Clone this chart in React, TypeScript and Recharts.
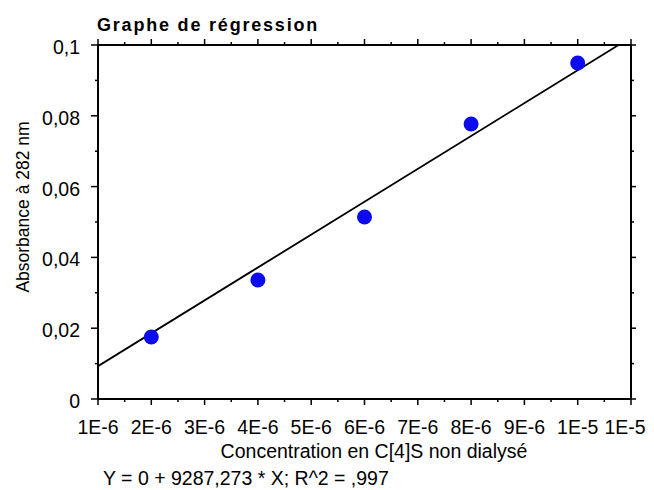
import React from "react";
import { ScatterChart, Scatter, XAxis, YAxis } from "recharts";

// ---- data ----
const concentrations = [2e-6, 4e-6, 6e-6, 8e-6, 1e-5];
const absorbances = [0.0175, 0.0336, 0.0514, 0.0777, 0.0949];
const fitIntercept = 0;
const fitSlope = 9287.273;
const fitX = [1e-6, 1.0767e-5];
const xMajorTicks = [1e-6, 2e-6, 3e-6, 4e-6, 5e-6, 6e-6, 7e-6, 8e-6, 9e-6, 1e-5, 1.1e-5];
const xTickLabels = ["1E-6", "2E-6", "3E-6", "4E-6", "5E-6", "6E-6", "7E-6", "8E-6", "9E-6", "1E-5", "1E-5"];
const yMajorTicks = [0, 0.02, 0.04, 0.06, 0.08, 0.1];
const yTickLabels = ["0", "0,02", "0,04", "0,06", "0,08", "0,1"];
const chartTitle = "Graphe de régression";
const xTitle = "Concentration en C[4]S non dialysé";
const yTitle = "Absorbance à 282 nm";
const equation = "Y = 0 + 9287,273 * X; R^2 = ,997";

const points = concentrations.map((x, i) => ({ x, y: absorbances[i] }));
const fitLine = fitX.map((x) => ({ x, y: fitIntercept + fitSlope * x }));

const withMinor = (majors: number[]) => {
  const out: number[] = [];
  majors.forEach((m, i) => {
    out.push(m);
    if (i < majors.length - 1) out.push((m + majors[i + 1]) / 2);
  });
  return out;
};
const xTicks = withMinor(xMajorTicks);
const yTicks = withMinor(yMajorTicks);

const FONT = "'Liberation Sans', Arial, Helvetica, sans-serif";
const FS = 19.5;
const W = 638;
const H = 482;

const makeTick =
  (side: "bottom" | "top" | "left" | "right", majors: number[], labels: string[], step: number) =>
  (props: any) => {
    const { x, y, payload } = props;
    const v = payload.value;
    const idx = majors.findIndex((m) => Math.abs(m - v) < step * 1e-4);
    const major = idx >= 0;
    let line;
    let label = null;
    if (side === "bottom") {
      const len = major ? 6 : 3;
      line = <line x1={x} y1={y} x2={x} y2={y + len} stroke="#000" strokeWidth={1.5} />;
      if (major)
        label = (
          <text
            x={Math.min(x, W - 21)}
            y={y + 35}
            textAnchor="middle"
            fontSize={FS}
            fontFamily={FONT}
            fill="#000"
          >
            {labels[idx]}
          </text>
        );
    } else if (side === "top") {
      const len = major ? 6 : 3;
      line = <line x1={x} y1={y} x2={x} y2={y - len} stroke="#000" strokeWidth={1.5} />;
    } else if (side === "left") {
      const len = major ? 7 : 3;
      line = <line x1={x} y1={y} x2={x - len} y2={y} stroke="#000" strokeWidth={1.5} />;
      if (major)
        label = (
          <text x={x - 18} y={y + 9} textAnchor="end" fontSize={FS} fontFamily={FONT} fill="#000">
            {labels[idx]}
          </text>
        );
    } else {
      const len = major ? 5 : 3;
      line = <line x1={x} y1={y} x2={x + len} y2={y} stroke="#000" strokeWidth={1.5} />;
    }
    return (
      <g>
        {line}
        {label}
      </g>
    );
  };

const Dot = (props: any) => {
  const { cx, cy } = props;
  if (cx == null || cy == null) return <g />;
  return <circle cx={cx} cy={cy} r={7.5} fill="#0b0bee" />;
};
const NoShape = () => <g />;

export default function App() {
  const axisLine = { stroke: "#000", strokeWidth: 2 };
  return (
    <div style={{ position: "relative", width: W, height: H }}>
      <style>{`.recharts-surface{overflow:visible}`}</style>
      <ScatterChart width={W} height={H} margin={{ top: 27, right: 5, bottom: 51, left: 30 }}>
        <XAxis
          xAxisId="b"
          type="number"
          dataKey="x"
          orientation="bottom"
          domain={[xMajorTicks[0], xMajorTicks[xMajorTicks.length - 1]]}
          allowDataOverflow
          ticks={xTicks}
          interval={0}
          tickSize={0}
          tickMargin={0}
          tickLine={false}
          axisLine={axisLine}
          height={40}
          tick={makeTick("bottom", xMajorTicks, xTickLabels, 1e-6)}
        />
        <XAxis
          xAxisId="t"
          type="number"
          dataKey="x"
          orientation="top"
          domain={[xMajorTicks[0], xMajorTicks[xMajorTicks.length - 1]]}
          allowDataOverflow
          ticks={xTicks}
          interval={0}
          tickSize={0}
          tickMargin={0}
          tickLine={false}
          axisLine={axisLine}
          height={10}
          tick={makeTick("top", xMajorTicks, xTickLabels, 1e-6)}
        />
        <YAxis
          yAxisId="l"
          type="number"
          dataKey="y"
          orientation="left"
          domain={[yMajorTicks[0], yMajorTicks[yMajorTicks.length - 1]]}
          allowDataOverflow
          ticks={yTicks}
          interval={0}
          tickSize={0}
          tickMargin={0}
          tickLine={false}
          axisLine={axisLine}
          width={60}
          tick={makeTick("left", yMajorTicks, yTickLabels, 0.02)}
        />
        <YAxis
          yAxisId="r"
          type="number"
          dataKey="y"
          orientation="right"
          domain={[yMajorTicks[0], yMajorTicks[yMajorTicks.length - 1]]}
          allowDataOverflow
          ticks={yTicks}
          interval={0}
          tickSize={0}
          tickMargin={0}
          tickLine={false}
          axisLine={axisLine}
          width={10}
          tick={makeTick("right", yMajorTicks, yTickLabels, 0.02)}
        />
        <Scatter
          xAxisId="b"
          yAxisId="l"
          data={fitLine}
          line={{ stroke: "#000", strokeWidth: 1.8 }}
          shape={NoShape}
          isAnimationActive={false}
        />
        <Scatter xAxisId="b" yAxisId="l" data={points} shape={Dot} isAnimationActive={false} />
      </ScatterChart>
      <svg
        width={W}
        height={H}
        style={{ position: "absolute", left: 0, top: 0, pointerEvents: "none", overflow: "visible" }}
      >
        <text x={89} y={23} fontSize={18} fontWeight="bold" letterSpacing={1.8} fontFamily={FONT} fill="#000">
          {chartTitle}
        </text>
        <text x={366} y={450} textAnchor="middle" fontSize={FS} fontFamily={FONT} fill="#000">
          {xTitle}
        </text>
        <text
          x={0}
          y={0}
          transform="translate(15,199) rotate(-90)"
          textAnchor="middle"
          dominantBaseline="central"
          fontSize={17.5}
          fontFamily={FONT}
          fill="#000"
        >
          {yTitle}
        </text>
        <text x={95} y={477} fontSize={FS} fontFamily={FONT} fill="#000">
          {equation}
        </text>
      </svg>
    </div>
  );
}
